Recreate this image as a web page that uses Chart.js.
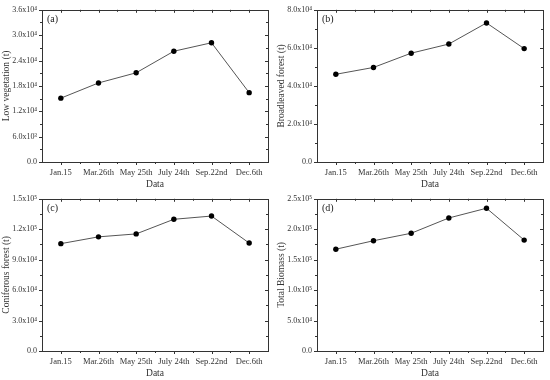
<!DOCTYPE html>
<html>
<head>
<meta charset="utf-8">
<script src="https://cdn.jsdelivr.net/npm/chart.js@4"></script>
<style>
  body { margin: 0; background: #fff; }
  canvas { position: absolute; }
</style>
</head>
<body>
<canvas id="chart-a" width="275" height="190" style="left:0;top:0"></canvas>
<canvas id="chart-b" width="275" height="190" style="left:275px;top:0"></canvas>
<canvas id="chart-c" width="275" height="190" style="left:0;top:189px"></canvas>
<canvas id="chart-d" width="275" height="190" style="left:275px;top:189px"></canvas>
<script>
const dates = ['Jan.15', 'Mar.26th', 'May 25th', 'July 24th', 'Sep.22nd', 'Dec.6th'];

const lowVegetation = [15100, 18700, 21100, 26200, 28200, 16400];
const broadleavedForest = [46100, 49700, 57200, 62000, 73100, 59600];
const coniferousForest = [105800, 112500, 115400, 129800, 133000, 106400];
const totalBiomass = [167200, 181100, 193400, 218500, 234500, 182200];

const ticksA = [0, 6000, 12000, 18000, 24000, 30000, 36000];
const tickLabelsA = ['0.0', '6.0x10³', '1.2x10⁴', '1.8x10⁴', '2.4x10⁴', '3.0x10⁴', '3.6x10⁴'];
const ticksB = [0, 20000, 40000, 60000, 80000];
const tickLabelsB = ['0.0', '2.0x10⁴', '4.0x10⁴', '6.0x10⁴', '8.0x10⁴'];
const ticksC = [0, 30000, 60000, 90000, 120000, 150000];
const tickLabelsC = ['0.0', '3.0x10⁴', '6.0x10⁴', '9.0x10⁴', '1.2x10⁵', '1.5x10⁵'];
const ticksD = [0, 50000, 100000, 150000, 200000, 250000];
const tickLabelsD = ['0.0', '5.0x10⁴', '1.0x10⁵', '1.5x10⁵', '2.0x10⁵', '2.5x10⁵'];

const FONT = "'Liberation Serif', 'Times New Roman', serif";
const INK = '#333';

// frame around the plot plus major/minor ticks, like the original Origin plots
const framePlugin = {
  id: 'frame',
  afterDraw(chart, args, opts) {
    const { ctx, chartArea: a } = chart;
    const x = chart.scales.x, y = chart.scales.y;
    ctx.save();
    ctx.strokeStyle = INK;
    ctx.lineWidth = 1;
    ctx.strokeRect(Math.round(a.left) + 0.5, Math.round(a.top) + 0.5,
      Math.round(a.right - a.left), Math.round(a.bottom - a.top));
    ctx.beginPath();
    const yt = y.ticks.map(t => t.value);
    yt.forEach((v, i) => {
      const p = Math.round(y.getPixelForValue(v)) + 0.5;
      ctx.moveTo(a.left - 3, p); ctx.lineTo(a.left, p);
      ctx.moveTo(a.right, p); ctx.lineTo(a.right - 3, p);
      if (i < yt.length - 1) {
        const m = Math.round(y.getPixelForValue((v + yt[i + 1]) / 2)) + 0.5;
        ctx.moveTo(a.left - 2, m); ctx.lineTo(a.left, m);
        ctx.moveTo(a.right, m); ctx.lineTo(a.right - 2, m);
      }
    });
    const n = chart.data.labels.length;
    for (let i = 0; i < n; i++) {
      const p = Math.round(x.getPixelForValue(i)) + 0.5;
      ctx.moveTo(p, a.bottom); ctx.lineTo(p, a.bottom + 3);
      ctx.moveTo(p, a.top); ctx.lineTo(p, a.top + 3);
      if (i < n - 1) {
        const m = Math.round(x.getPixelForValue(i + 0.5)) + 0.5;
        ctx.moveTo(m, a.bottom); ctx.lineTo(m, a.bottom + 2);
        ctx.moveTo(m, a.top); ctx.lineTo(m, a.top + 2);
      }
    }
    ctx.stroke();
    // panel letter
    ctx.fillStyle = '#222';
    ctx.font = '10px ' + FONT;
    ctx.textBaseline = 'middle';
    ctx.fillText(opts.letter, a.left + 5, a.top + 10);
    ctx.restore();
  }
};

function makePanel(id, letter, values, ticks, tickLabels, yTitle) {
  const config = {
    type: 'line',
    data: {
      labels: dates,
      datasets: [{
        data: values,
        borderColor: '#555',
        borderWidth: 1,
        pointRadius: 2.7,
        pointBackgroundColor: '#000',
        pointBorderColor: '#000',
        pointBorderWidth: 0,
        tension: 0
      }]
    },
    options: {
      responsive: false,
      animation: false,
      devicePixelRatio: 1,
      layout: { padding: { left: 0, top: 6, right: 7, bottom: 0 } },
      plugins: {
        legend: { display: false },
        tooltip: { enabled: false },
        frame: { letter: letter }
      },
      scales: {
        x: {
          offset: true,
          grid: { display: false, drawTicks: false },
          border: { display: false },
          ticks: { font: { family: FONT, size: 8.5 }, color: INK, padding: 6, maxRotation: 0, autoSkip: false },
          title: { display: true, text: 'Data', font: { family: FONT, size: 9.5 }, color: INK, padding: { top: 0, bottom: 0 } },
          afterFit: s => { s.height = 28; }
        },
        y: {
          min: ticks[0],
          max: ticks[ticks.length - 1],
          afterBuildTicks: s => { s.ticks = ticks.map(v => ({ value: v })); },
          grid: { display: false, drawTicks: false },
          border: { display: false },
          ticks: { callback: (v, i) => tickLabels[i], font: { family: FONT, size: 8 }, color: INK, padding: 5 },
          title: { display: true, text: yTitle, font: { family: FONT, size: 9.5 }, color: INK, padding: { top: 1, bottom: 0 } },
          afterFit: s => { s.width = 42; }
        }
      }
    },
    plugins: [framePlugin]
  };
  return new Chart(document.getElementById(id), config);
}

makePanel('chart-a', '(a)', lowVegetation, ticksA, tickLabelsA, 'Low vegetation (t)');
makePanel('chart-b', '(b)', broadleavedForest, ticksB, tickLabelsB, 'Broadleaved forest (t)');
makePanel('chart-c', '(c)', coniferousForest, ticksC, tickLabelsC, 'Coniferous forest (t)');
makePanel('chart-d', '(d)', totalBiomass, ticksD, tickLabelsD, 'Total Biomass (t)');
</script>
</body>
</html>
